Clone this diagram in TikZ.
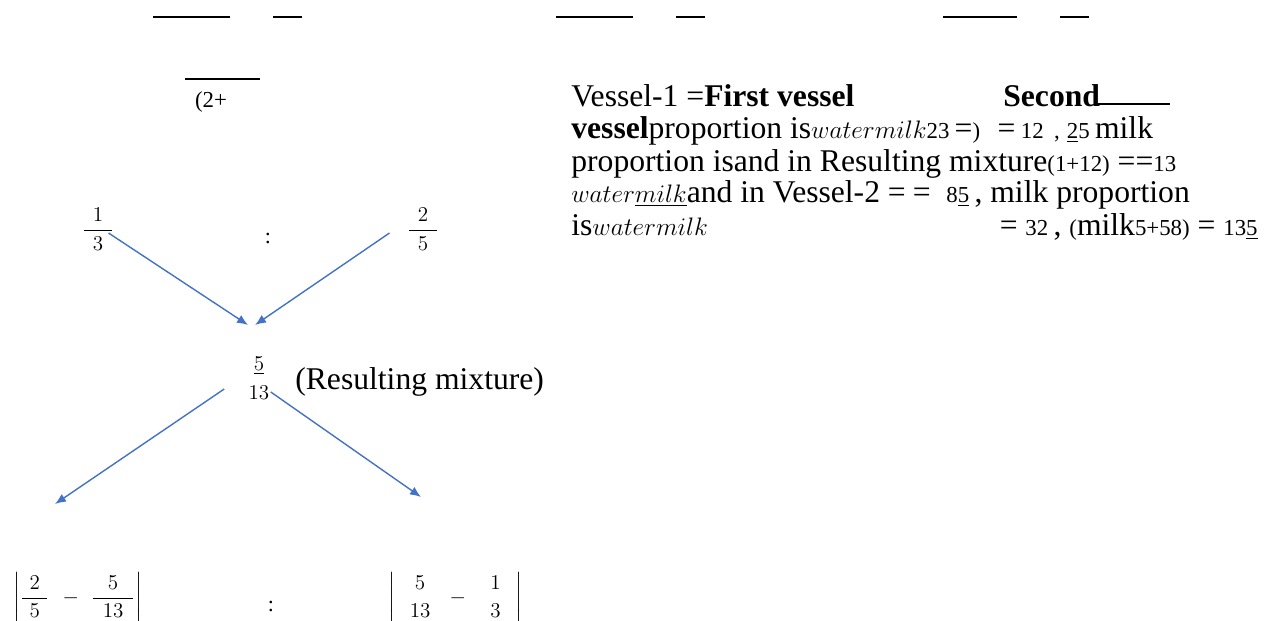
\documentclass[tikz,border=0pt]{standalone}
\usepackage{amsmath}
\usepackage{fontspec}
\setmainfont{Liberation Serif}
\usetikzlibrary{arrows.meta}

\definecolor{arrowblue}{HTML}{4472C4}

\newcommand{\sm}[1]{{\fontsize{13}{14}\selectfont #1}}
\newcommand{\smit}[1]{{\fontsize{14}{15}\selectfont$#1$}}
\newcommand{\wfrac}[3]{\dfrac{\makebox[#1]{$#2$}}{\makebox[#1]{$#3$}}}
\newcommand{\stack}[2]{\genfrac{}{}{0pt}{0}{#1}{#2}}

\tikzset{
  bar/.style={line width=1.2pt},
  flow/.style={arrowblue, line width=0.8pt, -{Latex[length=2.2mm,width=1.8mm]}},
  frac/.style={inner sep=0pt, font=\fontsize{12.5}{14}\selectfont},
  txt/.style={anchor=base west, inner sep=0pt, font=\fontsize{18}{20}\selectfont},
}

\begin{document}
\begin{tikzpicture}[x=0.02cm, y=-0.02cm]
    \useasboundingbox (0,0) rectangle (1273,620);

    % rules along the top
    \foreach \a/\b in {153/230, 273/302, 556/633, 676/705, 943/1017, 1060/1089}
        \draw[bar] (\a,17) -- (\b,17);
    \draw[bar] (185,79) -- (260,79);
    \node[inner sep=0pt, font=\fontsize{13}{14}\selectfont] (twoplus) at (211,102) {(2+};

    % the cross
    \node[frac] (onethird) at (98,229) {$\wfrac{16pt}{1}{3}$};
    \node[frac] (coltop) at (268,238) {:};
    \node[frac] (twofifths) at (423,229) {$\wfrac{16pt}{2}{5}$};
    \node[frac] (mix) at (259,381) {$\stack{\underline{5}\vphantom{1}}{13\vphantom{(}}$};
    \node[txt, anchor=west] (mixlabel) at (295,382) {(Resulting mixture)};

    \coordinate (inL) at (248,325);
    \coordinate (inR) at (255,325);
    \coordinate (outL) at (55,504);
    \coordinate (outR) at (421,497);
    \draw[flow] ([shift={(-6,4)}]onethird.east) -- (inL);
    \draw[flow] ([shift={(-17,4)}]twofifths.west) -- (inR);
    \draw[flow] ([shift={(-22,8)}]mix.west) -- (outL);
    \draw[flow] ([shift={(-1,11)}]mix.east) -- (outR);

    % the two differences
    \node[frac, anchor=west] (diffL) at (13,598) {$\left|\wfrac{14pt}{2}{5}\hspace{5pt}-\hspace{4pt}\wfrac{23pt}{5}{13}\right|$};
    \node[frac] (colbot) at (271,606) {:};
    \node[frac, anchor=west] (diffR) at (388,598) {$\left|\hspace{7pt}\stack{5}{13}\hspace{7pt}-\hspace{10pt}\stack{1}{3}\hspace{7pt}\right|$};

    % the text on the right
    \node[txt] (lineA) at (571,106) {Vessel-1 =\textbf{First vessel}};
    \node[txt] (lineAb) at (1003,106) {\textbf{Second}};
    \coordinate (ruleend) at (1170,104);
    \draw[bar] ([shift={(-4,-2)}]lineAb.base east) -- (ruleend);
    \node[txt] (lineB) at (571,138) {\textbf{vessel}proportion is\smit{watermilk}\sm{23}\,=\sm{)}\hspace{10pt}=\,\sm{12\hspace{6pt},\hspace{4pt}\underline{2}5}\hspace{3pt}milk};
    \node[txt] (lineC) at (571,171) {proportion isand in Resulting mixture\sm{(1+12)} ==\sm{13}};
    \node[txt] (lineD) at (571,202) {\smit{water\underline{milk}}and in Vessel-2 =\hspace{4pt}=\hspace{9pt}\sm{8\underline{5}}\,, milk proportion};
    \node[txt] (lineE) at (571,235) {is\smit{watermilk}};
    \node[txt, anchor=base east] (lineEb) at (1258,235) {= \sm{32}\,, \sm{(}milk\sm{5+58)} = \sm{13\underline{5}}};
\end{tikzpicture}
\end{document}
